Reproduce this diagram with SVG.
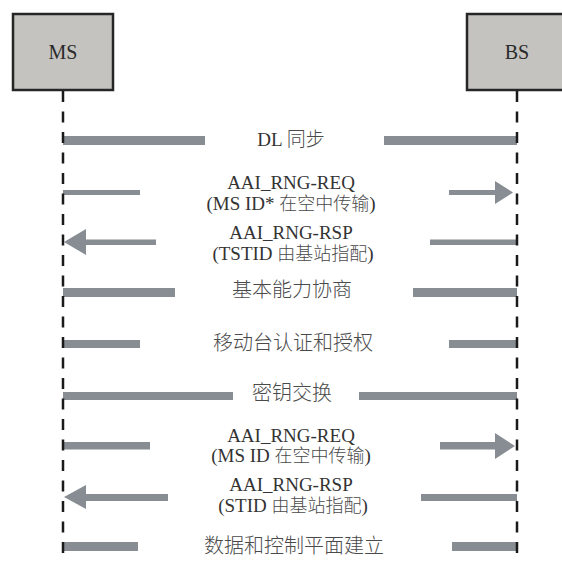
<svg xmlns="http://www.w3.org/2000/svg" width="562" height="561" viewBox="0 0 562 561">
<style>
.box{fill:#c5c3c0;stroke:#262626;stroke-width:2.5}
.lbl{font-family:"Liberation Serif","Noto Sans CJK SC",serif;font-size:20px;fill:#2a2a2a;text-anchor:middle}
.t{font-family:"Liberation Serif","Noto Sans CJK SC",serif;font-size:19px;fill:#333;text-anchor:middle}
.cn{font-family:"Noto Sans CJK SC",sans-serif;font-weight:300;font-size:18px;fill:#4a4a4a}
.cn20{font-family:"Noto Sans CJK SC",sans-serif;font-weight:300;font-size:20px;fill:#4a4a4a;text-anchor:middle}
.bar{fill:#878d93}
.life{stroke:#1a1a1a;stroke-width:2.5;stroke-dasharray:11 9.5;fill:none}
</style>
<rect width="562" height="561" fill="#fff"/>
<g id="node-MS">
<rect class="box" x="13" y="14" width="100" height="76"/>
<text class="lbl" x="63" y="59">MS</text>
</g>
<g id="node-BS">
<rect class="box" x="467" y="14" width="100" height="76"/>
<text class="lbl" x="517" y="59">BS</text>
</g>
<g id="connectors">
<rect class="bar" x="63" y="136" width="142" height="9"/>
<rect class="bar" x="384" y="136" width="133" height="9"/>
<rect class="bar" x="63" y="190" width="77" height="5"/>
<rect class="bar" x="449" y="190" width="47" height="5"/>
<polygon class="bar" points="495,181 513,192.5 495,204"/>
<polygon class="bar" points="64,242 86,229 86,255"/>
<rect class="bar" x="85" y="239.5" width="71" height="5.5"/>
<rect class="bar" x="430" y="239.5" width="87" height="5.5"/>
<rect class="bar" x="63" y="288" width="112" height="9"/>
<rect class="bar" x="413" y="288" width="104" height="9"/>
<rect class="bar" x="63" y="340" width="77" height="8"/>
<rect class="bar" x="449" y="340" width="68" height="8"/>
<rect class="bar" x="63" y="392" width="170" height="8"/>
<rect class="bar" x="359" y="392" width="158" height="8"/>
<rect class="bar" x="63" y="442" width="87" height="7.5"/>
<rect class="bar" x="440" y="442" width="56" height="7.5"/>
<polygon class="bar" points="495,433 515,446 495,459"/>
<polygon class="bar" points="64,497 86,485 86,509"/>
<rect class="bar" x="85" y="494" width="83" height="7"/>
<rect class="bar" x="421" y="494" width="96" height="7"/>
<rect class="bar" x="63" y="542" width="75" height="9"/>
<rect class="bar" x="452" y="542" width="65" height="9"/>
<line class="life" x1="63" y1="91" x2="63" y2="561"/>
<line class="life" x1="517" y1="91" x2="517" y2="561"/>
</g>
<g id="labels">
<text class="t" x="291" y="146">DL <tspan class="cn" style="font-size:19px">同步</tspan></text>
<text class="t" x="291" y="189">AAI_RNG-REQ</text>
<text class="t" x="291" y="209.5">(MS ID* <tspan class="cn">在空中传输</tspan>)</text>
<text class="t" x="291" y="239">AAI_RNG-RSP</text>
<text class="t" x="293" y="260">(TSTID <tspan class="cn">由基站指配</tspan>)</text>
<text class="cn20" x="292" y="297">基本能力协商</text>
<text class="cn20" x="293" y="350">移动台认证和授权</text>
<text class="cn20" x="292" y="400">密钥交换</text>
<text class="t" x="291" y="442">AAI_RNG-REQ</text>
<text class="t" x="291" y="461.5">(MS ID <tspan class="cn">在空中传输</tspan>)</text>
<text class="t" x="291" y="491">AAI_RNG-RSP</text>
<text class="t" x="293" y="511.5">(STID <tspan class="cn">由基站指配</tspan>)</text>
<text class="cn20" x="294" y="553">数据和控制平面建立</text>
</g>
</svg>
